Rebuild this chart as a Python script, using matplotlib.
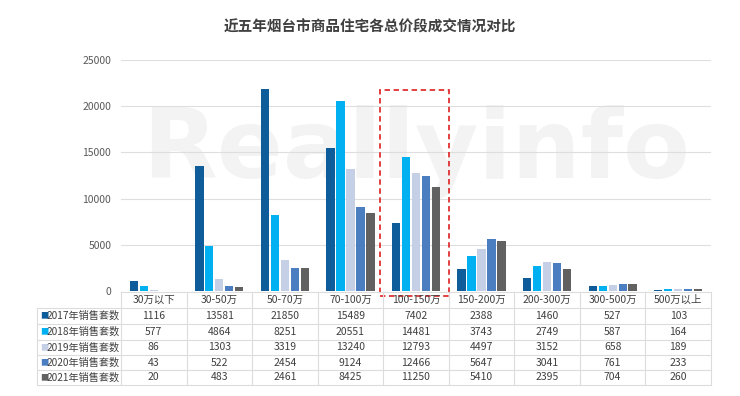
"""近五年烟台市商品住宅各总价段成交情况对比 — 柱状图 + 下方数据表."""
import matplotlib

matplotlib.use("Agg")
import matplotlib.pyplot as plt
from matplotlib.lines import Line2D
from matplotlib.patches import Rectangle
from matplotlib.transforms import blended_transform_factory

plt.rcParams["font.family"] = ["Noto Sans CJK SC", "DejaVu Sans"]

categories = ["30万以下", "30-50万", "50-70万", "70-100万", "100-150万",
              "150-200万", "200-300万", "300-500万", "500万以上"]
series_names = ["2017年销售套数", "2018年销售套数", "2019年销售套数",
                "2020年销售套数", "2021年销售套数"]
sales_2017 = [1116, 13581, 21850, 15489, 7402, 2388, 1460, 527, 103]
sales_2018 = [577, 4864, 8251, 20551, 14481, 3743, 2749, 587, 164]
sales_2019 = [86, 1303, 3319, 13240, 12793, 4497, 3152, 658, 189]
sales_2020 = [43, 522, 2454, 9124, 12466, 5647, 3041, 761, 233]
sales_2021 = [20, 483, 2461, 8425, 11250, 5410, 2395, 704, 260]
y_ticks = [0, 5000, 10000, 15000, 20000, 25000]

series = [sales_2017, sales_2018, sales_2019, sales_2020, sales_2021]
colors = ["#0F5C9B", "#00B0F0", "#C5CFE5", "#4A7EC0", "#616161"]

W, H = 740, 396
fig = plt.figure(figsize=(W / 100, H / 100), dpi=100)


def fy(py):
    # пиксель сверху -> доля фигуры
    return 1 - py / H


ax = fig.add_axes([121 / W, fy(291), (711 - 121) / W, (291 - 60) / H])
ax.set_xlim(-0.5, len(categories) - 0.5)
ax.set_ylim(0, 25000)

# водяной знак, под столбцами
ax.text(0.5, 0.6, "Reallyinfo", transform=ax.transAxes, fontsize=70,
        fontweight="bold", color="#f3f3f3", ha="center", va="center", zorder=0,
        family="DejaVu Sans")

pitch, width = 0.1525, 0.127
for i, (vals, col) in enumerate(zip(series, colors)):
    xs = [k + (i - 2) * pitch for k in range(len(categories))]
    ax.bar(xs, vals, width=width, color=col, zorder=3)

ax.set_yticks(y_ticks)
ax.tick_params(axis="y", length=0, labelsize=7.5, labelcolor="#595959", pad=7)
ax.set_xticks([])
ax.grid(axis="y", color="#dedede", linewidth=0.8, zorder=1)
ax.set_axisbelow(False)
for s in ax.spines.values():
    s.set_visible(False)

# красная пунктирная рамка вокруг 100-150万
ax.add_patch(Rectangle((3.45, -540), 1.05, 22290, fill=False, edgecolor="#E03030",
                       linestyle=(0, (3, 2)), linewidth=1.3, clip_on=False, zorder=5))

# таблица данных
tr = blended_transform_factory(ax.transData, fig.transFigure)
row_y = [292, 308, 324, 340, 355, 370, 385]
grid_c = "#dcdcdc"
n = len(categories)
for j, py in enumerate(row_y):
    if j == 0:
        fig.add_artist(Line2D([-0.5, n - 0.5], [fy(py)] * 2, transform=tr,
                              color=grid_c, linewidth=0.8))
    else:
        fig.add_artist(Line2D([37 / W, 711 / W], [fy(py)] * 2,
                              transform=fig.transFigure, color=grid_c, linewidth=0.8))
for k in range(n + 1):
    fig.add_artist(Line2D([k - 0.5] * 2, [fy(292), fy(385)], transform=tr,
                          color=grid_c, linewidth=0.8))
fig.add_artist(Line2D([37 / W] * 2, [fy(308), fy(385)], transform=fig.transFigure,
                      color=grid_c, linewidth=0.8))

txt_c = "#404040"
for k, cat in enumerate(categories):
    fig.text(k, fy((row_y[0] + row_y[1]) / 2), cat, transform=tr, ha="center",
             va="center", fontsize=7.5, color=txt_c)
for i, (name, vals, col) in enumerate(zip(series_names, series, colors)):
    yc = fy((row_y[i + 1] + row_y[i + 2]) / 2)
    fig.text(40 / W, yc, "■", color=col, fontsize=6, ha="left", va="center")
    fig.text(47 / W, yc, name, color=txt_c, fontsize=7.3, ha="left", va="center")
    for k, v in enumerate(vals):
        fig.text(k, yc, str(v), transform=tr, ha="center", va="center",
                 fontsize=7.5, color=txt_c)

fig.text(370 / W, fy(27), "近五年烟台市商品住宅各总价段成交情况对比", ha="center",
         va="center", fontsize=10.5, fontweight="bold", color="#404040")

fig.savefig("out.png", dpi=100)
